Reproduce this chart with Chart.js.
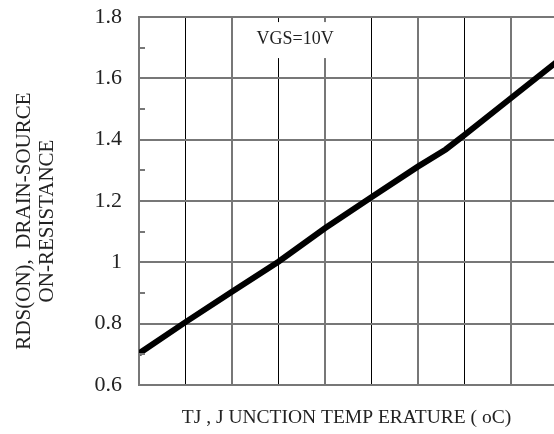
<!DOCTYPE html>
<html>
<head>
<meta charset="utf-8">
<script src="https://cdn.jsdelivr.net/npm/chart.js@4"></script>
<style>
  body { margin: 0; background: #fff; }
  .container { width: 554px; height: 434px; position: relative; }
</style>
</head>
<body>
<div class="container"><canvas id="chart"></canvas></div>
<script>
// x = vertical grid line index (no labels on the original axis)
var tempIdx = [0, 1, 2, 3, 4, 5, 6, 6.6, 7, 8, 9];
var rds = [0.703, 0.805, 0.904, 1.002, 1.111, 1.212, 1.312, 1.368, 1.415, 1.535, 1.655];
var yTicks = [0.6, 0.8, 1, 1.2, 1.4, 1.6, 1.8];
var minorTicks = [0.7, 0.9, 1.1, 1.3, 1.5, 1.7];
var xTitle = "TJ , J UNCTION TEMP ERATURE ( oC)";
var yTitle = ["RDS(ON),  DRAIN-SOURCE", "ON-RESISTANCE"];
var note = "VGS=10V";

var serif = "'Liberation Serif', 'Times New Roman', serif";

var extras = {
    id: 'extras',
    beforeDatasetsDraw(chart) {
        const { ctx, scales: { x, y } } = chart;
        ctx.save();
        ctx.font = "18px " + serif;
        const w = ctx.measureText(note).width;
        const cx = x.getPixelForValue(3.36);
        const cy = y.getPixelForValue(1.728);
        ctx.fillStyle = '#fff';
        ctx.fillRect(cx - w / 2 - 6, cy - 17, w + 12, 36);
        ctx.fillStyle = '#222';
        ctx.textAlign = 'center';
        ctx.textBaseline = 'middle';
        ctx.fillText(note, cx, cy);
        ctx.restore();
    },
    afterDraw(chart) {
        const { ctx, chartArea, scales: { y } } = chart;
        ctx.save();
        // short minor ticks inside the left axis
        ctx.strokeStyle = '#777';
        ctx.lineWidth = 2;
        minorTicks.forEach(v => {
            const py = Math.round(y.getPixelForValue(v));
            ctx.beginPath();
            ctx.moveTo(chartArea.left, py);
            ctx.lineTo(chartArea.left + 6, py);
            ctx.stroke();
        });
        // rotated y title, two lines
        ctx.translate(0, (chartArea.top + chartArea.bottom) / 2 + 20);
        ctx.rotate(-Math.PI / 2);
        ctx.fillStyle = '#222';
        ctx.font = "21px " + serif;
        ctx.textAlign = 'center';
        ctx.textBaseline = 'alphabetic';
        ctx.fillText(yTitle[0], 0, 30);
        ctx.fillText(yTitle[1], 0, 53);
        ctx.restore();
    }
};

var ctx = document.getElementById('chart').getContext('2d');
var chart = new Chart(ctx, {
    type: 'line',
    data: {
        datasets: [{
            data: tempIdx.map((t, i) => ({ x: t, y: rds[i] })),
            borderColor: '#000',
            borderWidth: 6,
            pointRadius: 0,
            tension: 0,
            fill: false
        }]
    },
    options: {
        responsive: true,
        maintainAspectRatio: false,
        animation: false,
        layout: { padding: { top: 17, right: 0, left: 0, bottom: 0 } },
        plugins: {
            legend: { display: false },
            tooltip: { enabled: false }
        },
        scales: {
            x: {
                type: 'linear',
                min: 0,
                max: 8.93,
                afterFit: s => { s.height = 49; s.paddingLeft = 0; s.paddingRight = 0; },
                ticks: { display: false, stepSize: 1 },
                grid: {
                    drawTicks: false,
                    color: c => !Number.isInteger(c.tick.value) ? 'rgba(0,0,0,0)' : (c.tick.value % 2 === 1 ? '#000' : '#777'),
                    lineWidth: c => (c.tick.value % 2 === 1 ? 1 : 2)
                },
                border: { color: '#777', width: 2 },
                title: {
                    display: true,
                    text: xTitle,
                    color: '#222',
                    font: { family: serif, size: 19.5 },
                    padding: { top: 0, bottom: 4 }
                }
            },
            y: {
                min: 0.6,
                max: 1.8,
                afterFit: s => { s.width = 139; s.paddingTop = 0; s.paddingBottom = 0; },
                afterBuildTicks: s => { s.ticks = yTicks.map(v => ({ value: v })); },
                ticks: {
                    color: '#222',
                    padding: 17,
                    font: { family: serif, size: 22 },
                    callback: v => String(v)
                },
                grid: { drawTicks: false, color: '#777', lineWidth: 2 },
                border: { color: '#777', width: 2 }
            }
        }
    },
    plugins: [extras]
});
</script>
</body>
</html>
